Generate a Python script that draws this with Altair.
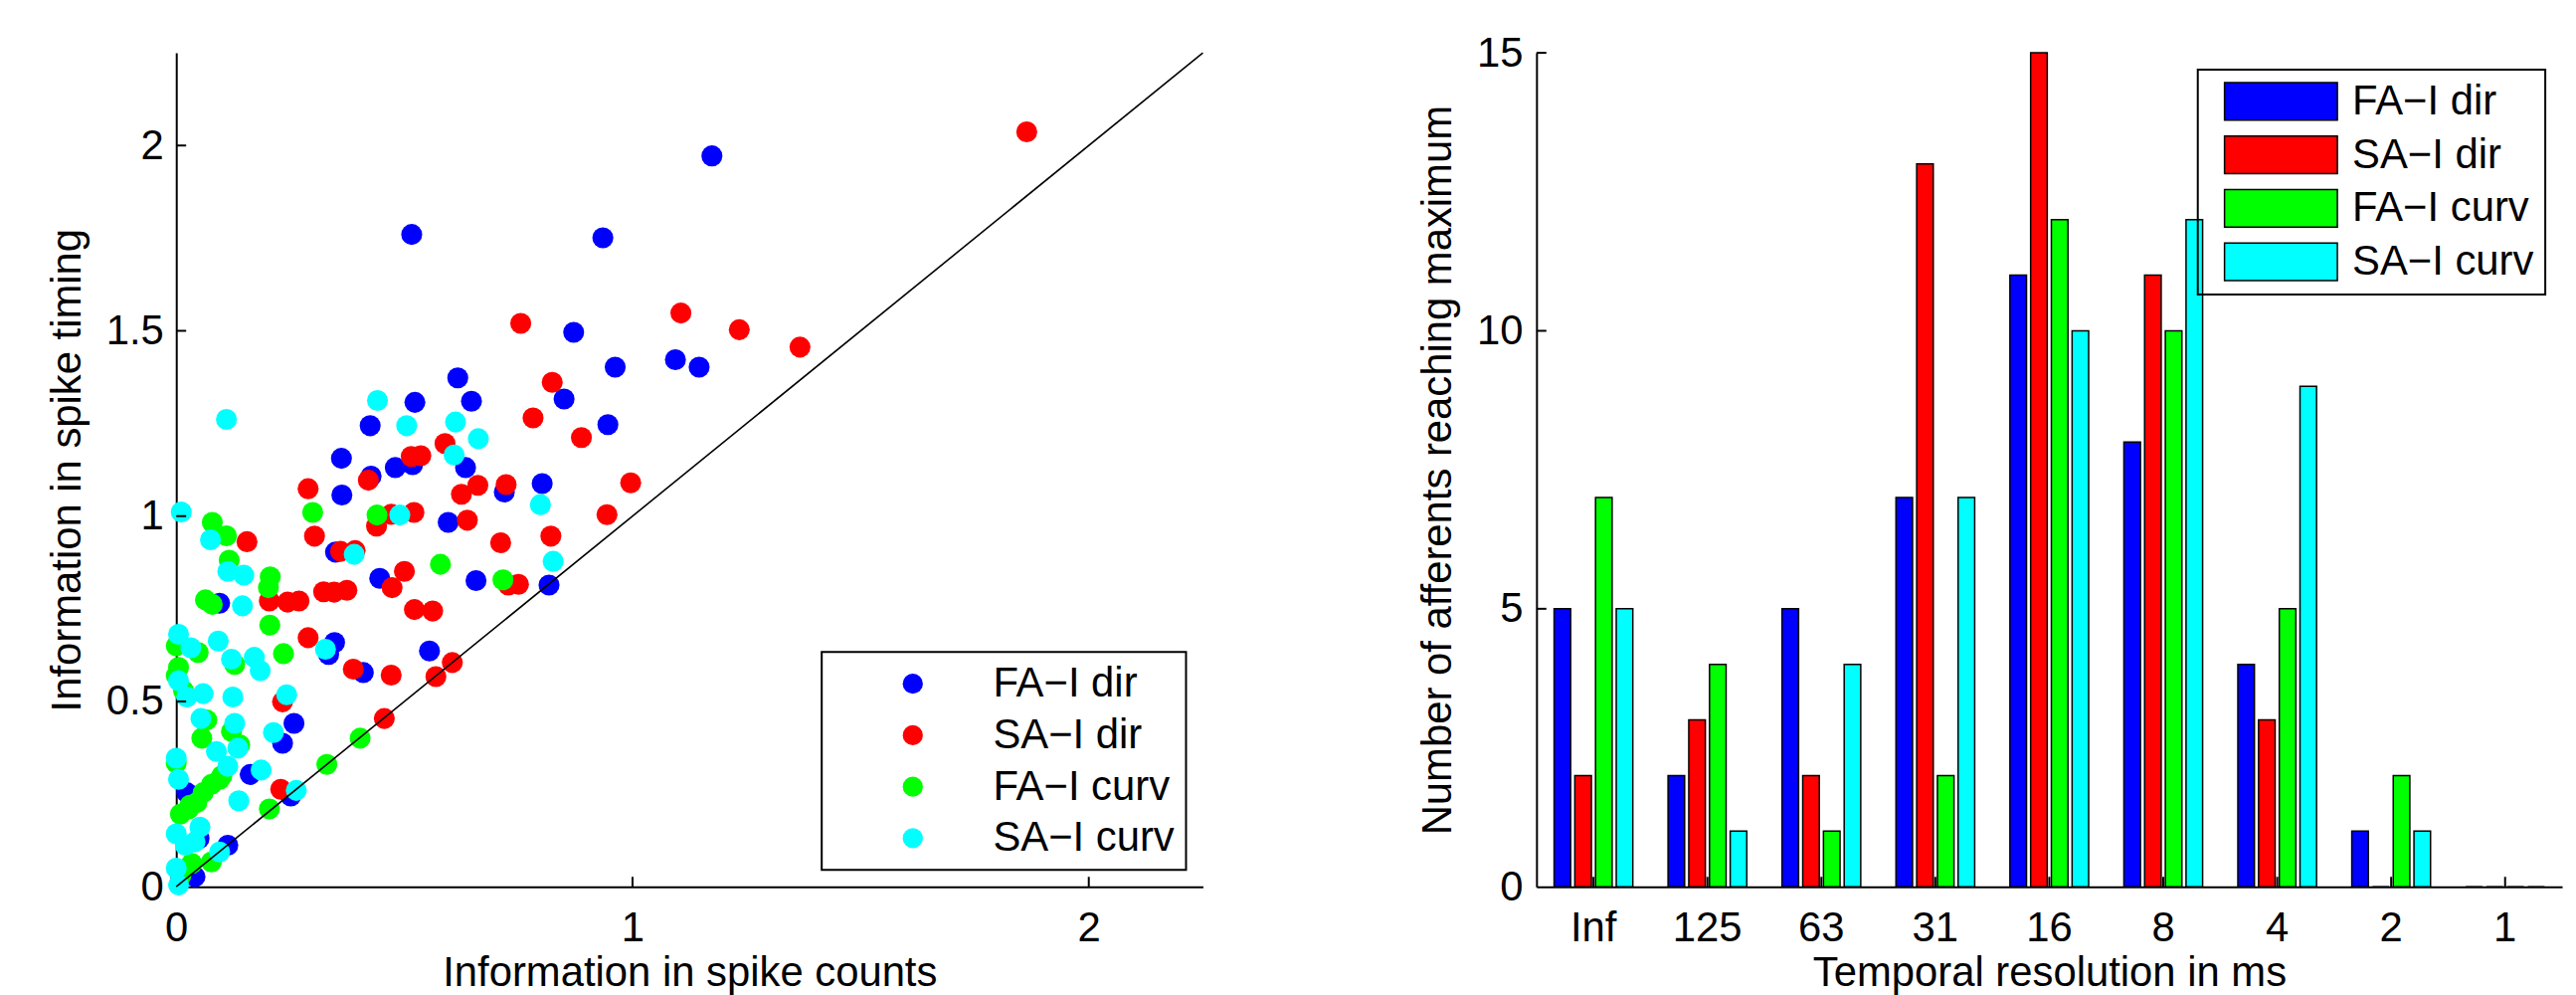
import altair as alt
import pandas as pd

FONT = "Liberation Sans"
FS = 42

series_names = ["FA\u2212I dir", "SA\u2212I dir", "FA\u2212I curv", "SA\u2212I curv"]
series_colors = ["#0000ff", "#ff0000", "#00ff00", "#00ffff"]

# ---- scatter data (information in spike counts vs spike timing) ----
fa_dir_x = [1.174, 0.935, 0.516, 0.871, 0.962, 1.094, 1.146, 0.617, 0.850, 0.523,
            0.425, 0.362, 0.480, 0.518, 0.427, 0.363, 0.596, 0.349, 0.446, 0.095,
            0.647, 0.946, 0.634, 0.719, 0.802, 0.657, 0.817, 0.347, 0.334, 0.410,
            0.555, 0.258, 0.233, 0.162, 0.023, 0.251, 0.113, 0.041, 0.050, 0.010]
fa_dir_y = [1.972, 1.751, 1.760, 1.496, 1.402, 1.422, 1.402, 1.373, 1.316, 1.307,
            1.244, 1.156, 1.131, 1.139, 1.108, 1.057, 0.983, 0.903, 0.832, 0.765,
            1.310, 1.247, 1.131, 1.065, 1.088, 0.826, 0.814, 0.659, 0.627, 0.578,
            0.636, 0.441, 0.387, 0.303, 0.254, 0.245, 0.112, 0.027, 0.130, 0.020]

sa_dir_x = [1.864, 1.234, 1.367, 0.755, 1.106, 0.824, 0.589, 0.515, 0.536, 0.421,
            0.289, 0.625, 0.439, 0.471, 0.521, 0.155, 0.303, 0.360, 0.392, 0.500,
            0.473, 0.323, 0.346, 0.374, 0.204, 0.244, 0.269, 0.522, 0.562, 0.782,
            0.888, 0.661, 0.723, 0.996, 0.944, 0.638, 0.711, 0.821, 0.728, 0.750,
            0.289, 0.388, 0.471, 0.605, 0.569, 0.233, 0.229, 0.456]
sa_dir_y = [2.037, 1.503, 1.456, 1.520, 1.548, 1.361, 1.196, 1.161, 1.163, 1.097,
            1.074, 1.059, 0.973, 1.005, 1.010, 0.931, 0.946, 0.905, 0.907, 0.851,
            0.807, 0.796, 0.795, 0.800, 0.771, 0.768, 0.771, 0.748, 0.744, 1.265,
            1.212, 1.083, 1.085, 1.090, 1.004, 0.989, 0.928, 0.946, 0.814, 0.816,
            0.672, 0.587, 0.571, 0.605, 0.567, 0.499, 0.263, 0.454]

fa_curv_x = [0.299, 0.440, 0.079, 0.110, 0.116, 0.579, 0.206, 0.202, 0.064, 0.079,
             0.716, 0.205, 0.000, 0.048, 0.128, 0.235, 0.005, 0.016, 0.067, 0.121,
             0.056, 0.139, 0.000, 0.077, 0.059, 0.045, 0.009, 0.027, 0.204, 0.330,
             0.403, 0.077, 0.034, 0.010, 0.030, 0.100, 0.000, 0.095]
fa_curv_y = [1.010, 1.003, 0.983, 0.947, 0.881, 0.870, 0.836, 0.807, 0.774, 0.762,
             0.828, 0.706, 0.650, 0.632, 0.600, 0.629, 0.592, 0.529, 0.450, 0.419,
             0.401, 0.383, 0.334, 0.276, 0.254, 0.227, 0.196, 0.210, 0.210, 0.330,
             0.401, 0.067, 0.063, 0.030, 0.220, 0.300, 0.570, 0.290]

sa_curv_x = [0.110, 0.441, 0.505, 0.612, 0.609, 0.011, 0.490, 0.075, 0.390, 0.113,
             0.148, 0.145, 0.662, 0.798, 0.826, 0.005, 0.032, 0.092, 0.121, 0.171,
             0.184, 0.327, 0.005, 0.023, 0.059, 0.124, 0.242, 0.054, 0.128, 0.213,
             0.088, 0.135, 0.113, 0.000, 0.186, 0.005, 0.137, 0.263, 0.000, 0.020,
             0.052, 0.041, 0.095, 0.000, 0.005]
sa_curv_y = [1.261, 1.312, 1.244, 1.254, 1.165, 1.011, 1.003, 0.936, 0.897, 0.851,
             0.841, 0.758, 1.209, 1.031, 0.878, 0.681, 0.645, 0.663, 0.614, 0.619,
             0.583, 0.641, 0.556, 0.512, 0.521, 0.512, 0.518, 0.454, 0.441, 0.416,
             0.365, 0.374, 0.325, 0.347, 0.315, 0.290, 0.232, 0.260, 0.143, 0.112,
             0.161, 0.121, 0.094, 0.050, 0.005]

diag_x = [0, 2.25]
x_ticks_left = [0, 1, 2]
y_ticks_left = [0, 0.5, 1, 1.5, 2]

# ---- bar data ----
categories = ["Inf", "125", "63", "31", "16", "8", "4", "2", "1"]
fa_dir_counts = [5, 2, 5, 7, 11, 8, 4, 1, 0]
sa_dir_counts = [2, 3, 2, 13, 15, 11, 3, 0, 0]
fa_curv_counts = [7, 4, 1, 2, 12, 10, 5, 2, 0]
sa_curv_counts = [5, 1, 4, 7, 10, 12, 9, 1, 0]
y_ticks_right = [0, 5, 10, 15]

# ---- tables ----
rows = []
order = 0
for name, xs, ys in zip(series_names,
                        [fa_dir_x, sa_dir_x, fa_curv_x, sa_curv_x],
                        [fa_dir_y, sa_dir_y, fa_curv_y, sa_curv_y]):
    for xv, yv in zip(xs, ys):
        rows.append({"x": xv, "y": yv, "group": name, "ord": order})
        order += 1
scatter_df = pd.DataFrame(rows)
diag_df = pd.DataFrame({"x": diag_x, "y": diag_x})
xtick_df = pd.DataFrame({"x": x_ticks_left[1:]})
ytick_df = pd.DataFrame({"y": y_ticks_left[1:]})

bar_rows = []
for name, vals in zip(series_names,
                      [fa_dir_counts, sa_dir_counts, fa_curv_counts, sa_curv_counts]):
    for c, v in zip(categories, vals):
        bar_rows.append({"cat": c, "group": name, "value": v})
bar_df = pd.DataFrame(bar_rows)
cat_tick_df = pd.DataFrame({"cat": categories})
val_tick_df = pd.DataFrame({"value": y_ticks_right[1:]})

W_L, W_R, H = 1037, 1036, 842

color_scale = alt.Scale(domain=series_names, range=series_colors)

x_left = alt.X("x:Q", scale=alt.Scale(domain=[0, 2.25], nice=False, zero=False),
               axis=alt.Axis(values=x_ticks_left, format="~g", title="Information in spike counts",
                             labelPadding=22, labelFlush=False, titleY=100,
                             titleBaseline="alphabetic"))
y_left = alt.Y("y:Q", scale=alt.Scale(domain=[0, 2.25], nice=False, zero=False),
               axis=alt.Axis(values=y_ticks_left, format="~g", title="Information in spike timing",
                             labelPadding=13, titleX=-97, titleBaseline="alphabetic"))

points = alt.Chart(scatter_df).mark_circle(size=450, opacity=1).encode(
    x=x_left, y=y_left,
    color=alt.Color("group:N", scale=color_scale, sort=series_names,
                    legend=alt.Legend(title=None, orient="bottom-right", offset=17,
                                      strokeColor="black", padding=11,
                                      symbolType="circle", symbolSize=415,
                                      symbolStrokeWidth=0, symbolOffset=60,
                                      labelOffset=60, rowPadding=10,
                                      labelFont=FONT, labelFontSize=FS,
                                      labelColor="black", labelLimit=500)),
    order=alt.Order("ord:Q"),
)
diag = alt.Chart(diag_df).mark_line(color="black", strokeWidth=1.6).encode(x=x_left, y=y_left)
xt_left = alt.Chart(xtick_df).mark_rule(color="black", strokeWidth=2).encode(
    x=x_left, y=alt.value(H), y2=alt.value(H - 10))
yt_left = alt.Chart(ytick_df).mark_rule(color="black", strokeWidth=2).encode(
    y=y_left, x=alt.value(0), x2=alt.value(10))

left = alt.layer(points, diag, xt_left, yt_left).properties(width=W_L, height=H)

x_right = alt.X("cat:N", sort=categories, scale=alt.Scale(paddingInner=0, paddingOuter=0),
                axis=alt.Axis(title="Temporal resolution in ms", labelAngle=0, labelPadding=22,
                              titleY=100, titleBaseline="alphabetic"))
y_right = alt.Y("value:Q", scale=alt.Scale(domain=[0, 15], nice=False),
                axis=alt.Axis(values=y_ticks_right, title="Number of afferents reaching maximum",
                              labelPadding=14, titleX=-87, titleBaseline="alphabetic"))

bars = alt.Chart(bar_df).mark_bar(stroke="black", strokeWidth=1.5).encode(
    x=x_right,
    xOffset=alt.XOffset("group:N", sort=series_names,
                        scale=alt.Scale(paddingInner=0.2, paddingOuter=0.85)),
    y=y_right,
    color=alt.Color("group:N", scale=color_scale, sort=series_names,
                    legend=alt.Legend(title=None, orient="top-right", offset=17,
                                      strokeColor="black", padding=11,
                                      symbolType="M-3,-1H3V1H-3Z", symbolSize=1444,
                                      symbolStrokeColor="black", symbolStrokeWidth=1.5,
                                      symbolOffset=52, labelOffset=51, rowPadding=10,
                                      labelFont=FONT, labelFontSize=FS,
                                      labelColor="black", labelLimit=500)),
)
xt_right = alt.Chart(cat_tick_df).mark_rule(color="black", strokeWidth=2).encode(
    x=x_right, y=alt.value(H), y2=alt.value(H - 10))
yt_right = alt.Chart(val_tick_df).mark_rule(color="black", strokeWidth=2).encode(
    y=y_right, x=alt.value(0), x2=alt.value(10))

right = alt.layer(bars, xt_right, yt_right).properties(width=W_R, height=H)

chart = alt.hconcat(left, right, spacing=211).resolve_scale(color="independent").properties(
    padding={"left": 38, "top": 21, "right": 5, "bottom": 5}
).configure_view(stroke="transparent").configure_axis(
    grid=False, ticks=False, domainColor="black", domainWidth=2,
    labelFont=FONT, labelFontSize=FS, labelColor="black",
    titleFont=FONT, titleFontSize=FS, titleColor="black", titleFontWeight="normal",
).configure_legend(strokeWidth=2)

chart.save("out.html", embed_options={"renderer": "svg", "actions": False})
